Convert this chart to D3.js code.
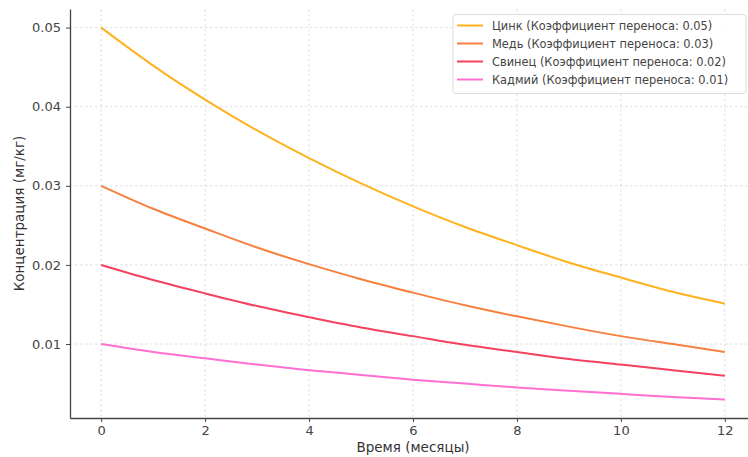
<!DOCTYPE html>
<html><head><meta charset="utf-8">
<script src="https://cdn.jsdelivr.net/npm/d3@7"></script>
<style>body{margin:0;background:#fff}svg{display:block}</style>
</head><body><svg id="c" width="748" height="457"></svg>
<script>
const months = [0,1,2,3,4,5,6,7,8,9,10,11,12];
const zinc    = [0.0500,0.0452,0.0409,0.0370,0.0335,0.0303,0.0274,0.0248,0.0225,0.0203,0.0184,0.0166,0.0151];
const copper  = [0.0300,0.0271,0.0246,0.0222,0.0201,0.0182,0.0165,0.0149,0.0135,0.0122,0.0110,0.0100,0.0090];
const lead    = [0.0200,0.0181,0.0164,0.0148,0.0134,0.0121,0.0110,0.0099,0.0090,0.0081,0.0074,0.0067,0.0060];
const cadmium = [0.0100,0.0090,0.0082,0.0074,0.0067,0.0061,0.0055,0.0050,0.0045,0.0041,0.0037,0.0033,0.0030];
const seriesNames = ["Цинк (Коэффициент переноса: 0.05)","Медь (Коэффициент переноса: 0.03)","Свинец (Коэффициент переноса: 0.02)","Кадмий (Коэффициент переноса: 0.01)"];
const seriesColors = ["#FFB21E","#F7803F","#F4415F","#FF6FD2"];
const xTicks = [0,2,4,6,8,10,12];
const yTicks = [0.01,0.02,0.03,0.04,0.05];
const xLabel = "Время (месяцы)";
const yLabel = "Концентрация (мг/кг)";

const seriesValues = [zinc, copper, lead, cadmium];
const svg = d3.select("#c");
const L = 70, R = 756, T = 9, B = 418;
const x = d3.scaleLinear().domain([-0.6, 12.6]).range([L, R]);
const y = d3.scaleLinear().domain([0.00065, 0.05235]).range([B, T]);
const font = "DejaVu Sans, sans-serif";

// grid
const g = svg.append("g");
g.selectAll(".gx").data(xTicks).join("line")
  .attr("x1", d => x(d)).attr("x2", d => x(d)).attr("y1", T).attr("y2", B)
  .attr("stroke", "#d6d6d6").attr("stroke-width", 0.8).attr("stroke-dasharray", "2.5,2.5");
g.selectAll(".gy").data(yTicks).join("line")
  .attr("x1", L).attr("x2", R).attr("y1", d => y(d)).attr("y2", d => y(d))
  .attr("stroke", "#d6d6d6").attr("stroke-width", 0.8).attr("stroke-dasharray", "2.5,2.5");

// lines
const line = d3.line().x((d, i) => x(months[i])).y(d => y(d)).curve(d3.curveNatural);
seriesValues.forEach((vals, k) => {
  svg.append("path").datum(vals).attr("d", line)
    .attr("fill", "none").attr("stroke", seriesColors[k]).attr("stroke-width", 2);
});

// axes
const xAxis = d3.axisBottom(x).tickValues(xTicks).tickFormat(d3.format("d")).tickSize(4).tickSizeOuter(0).tickPadding(4);
const yAxis = d3.axisLeft(y).tickValues(yTicks).tickFormat(d3.format(".2f")).tickSize(4).tickSizeOuter(0).tickPadding(5);
const gx = svg.append("g").attr("transform", `translate(0,${B})`).call(xAxis);
const gy = svg.append("g").attr("transform", `translate(${L},0)`).call(yAxis);
[gx, gy].forEach(a => {
  a.select(".domain").attr("stroke", "#444").attr("stroke-width", 1.3);
  a.selectAll(".tick line").attr("stroke", "#444");
  a.selectAll(".tick text").attr("fill", "#444").style("font-family", font).style("font-size", "13px");
});

svg.append("text").attr("x", (L + R) / 2).attr("y", 452).attr("text-anchor", "middle")
  .attr("fill", "#333").style("font-family", font).style("font-size", "13.5px").text(xLabel);
svg.append("text").attr("transform", `translate(24,${(T + B) / 2}) rotate(-90)`).attr("text-anchor", "middle")
  .attr("fill", "#333").style("font-family", font).style("font-size", "13.5px").text(yLabel);

// legend
const lg = svg.append("g");
lg.append("rect").attr("x", 453).attr("y", 14.5).attr("width", 293).attr("height", 79).attr("rx", 3)
  .attr("fill", "#fff").attr("fill-opacity", 0.85).attr("stroke", "#ddd");
seriesNames.forEach((n, k) => {
  const yy = 25.5 + k * 18;
  lg.append("line").attr("x1", 457).attr("x2", 483).attr("y1", yy).attr("y2", yy)
    .attr("stroke", seriesColors[k]).attr("stroke-width", 2);
  lg.append("text").attr("x", 492).attr("y", yy + 4).attr("fill", "#444")
    .style("font-family", font).style("font-size", "11.4px").text(n);
});
</script></body></html>
